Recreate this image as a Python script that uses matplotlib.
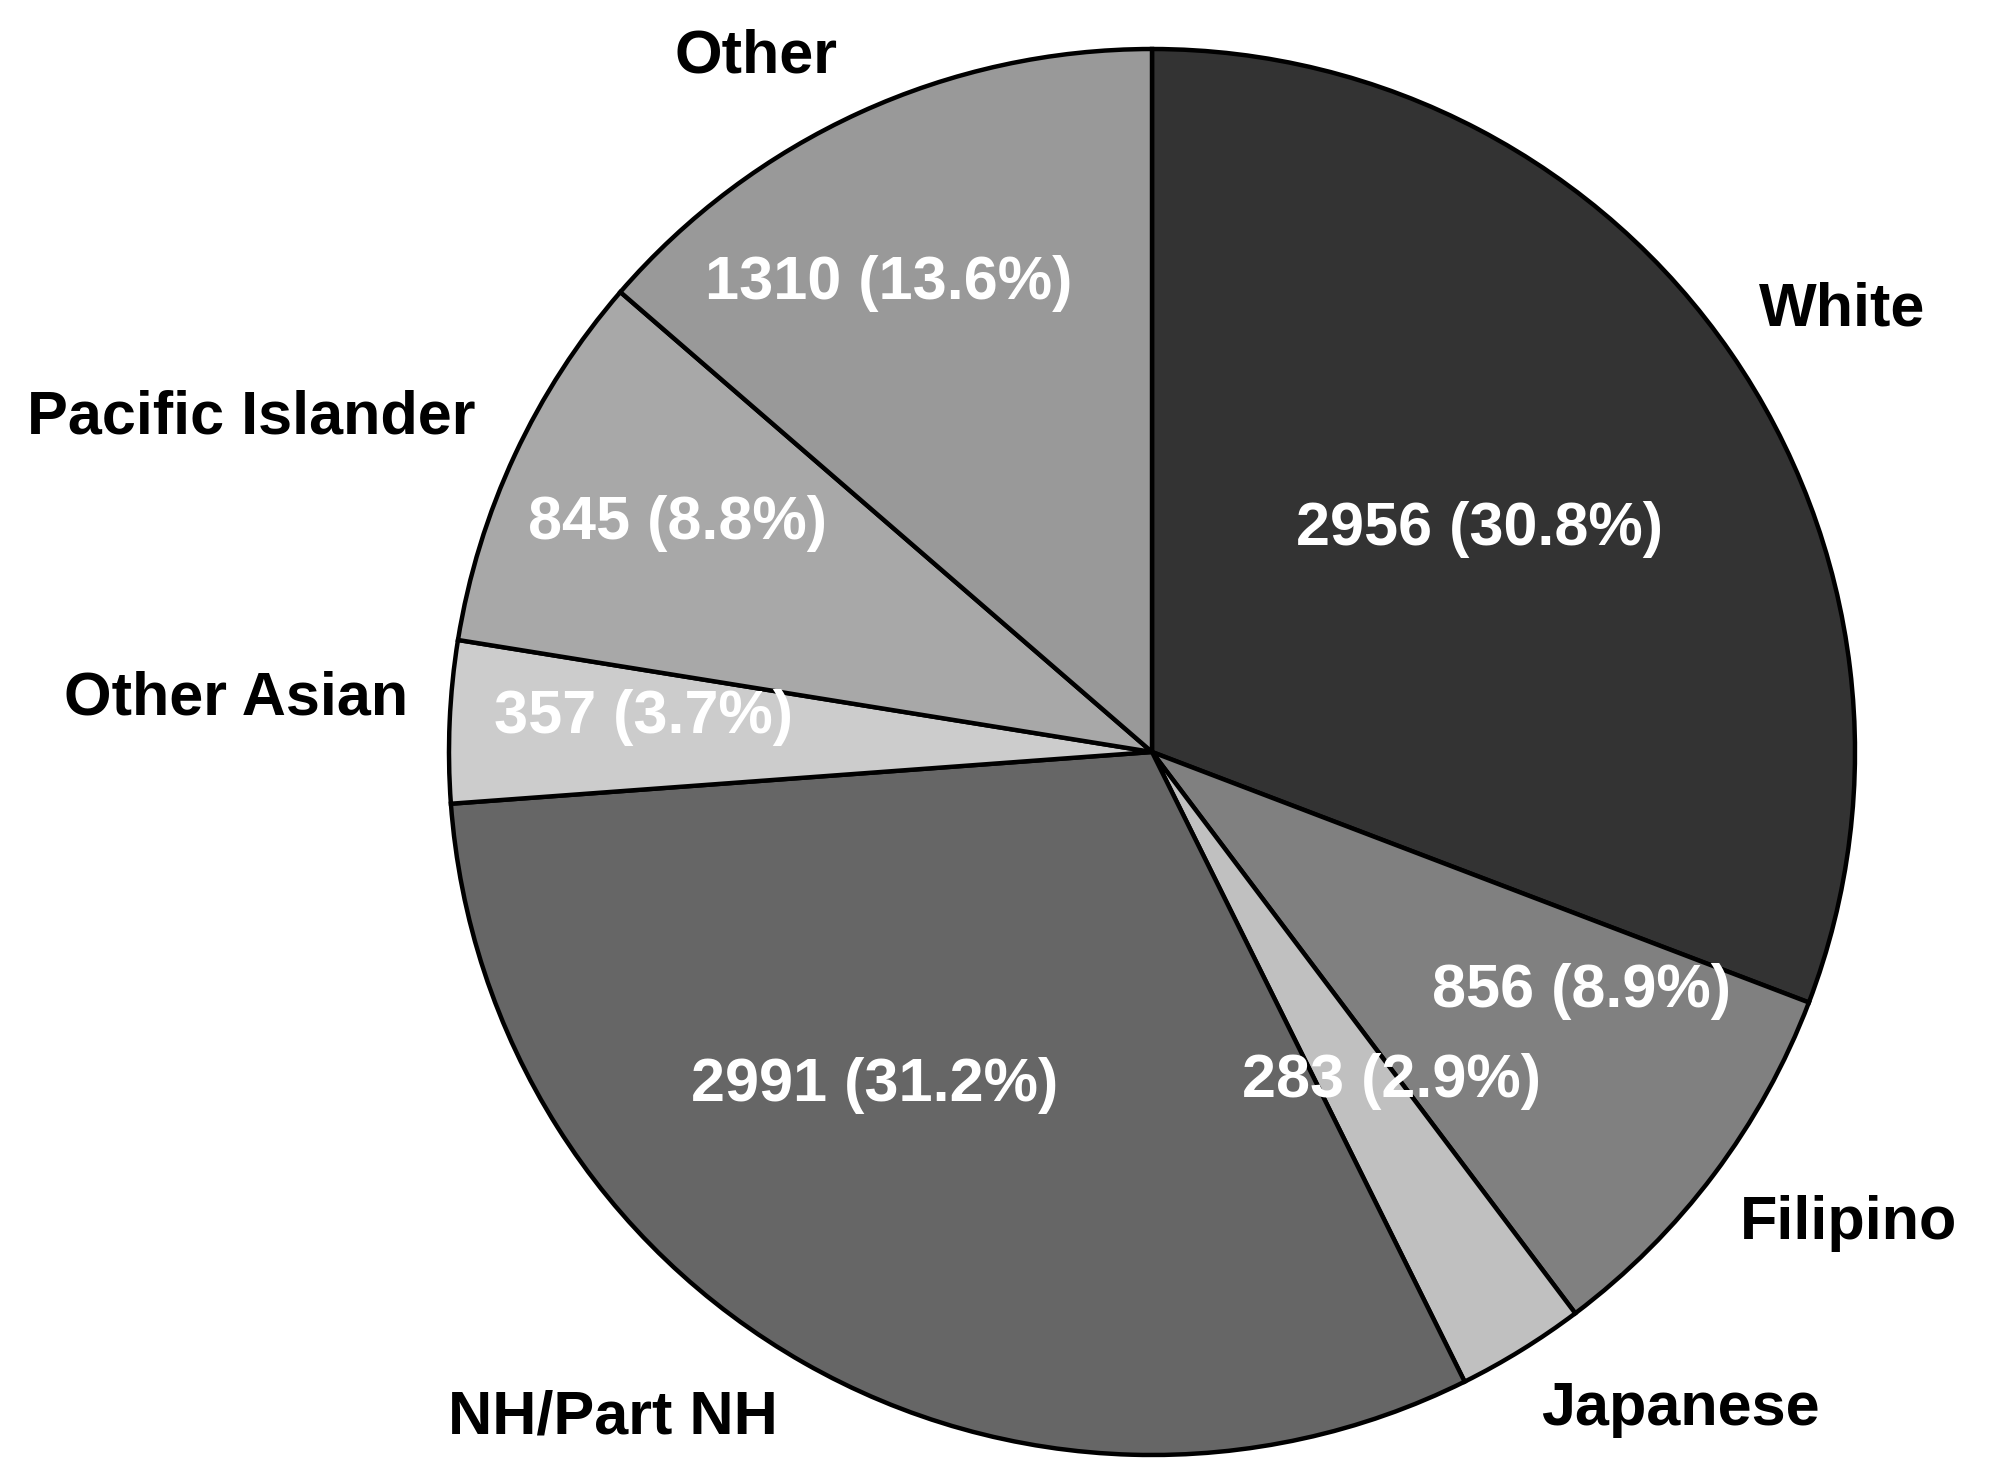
import matplotlib
matplotlib.use("Agg")
import matplotlib.pyplot as plt

# slices, clockwise from 12 o'clock
groups = ["White", "Filipino", "Japanese", "NH/Part NH", "Other Asian", "Pacific Islander", "Other"]
counts = [2956, 856, 283, 2991, 357, 845, 1310]
colors = ["#333333", "#808080", "#c0c0c0", "#666666", "#cccccc", "#a8a8a8", "#999999"]

# label placement in figure pixels (x, y from top)
name_pos = [(1842, 310), (1849, 1224), (1680, 1409), (613, 1418), (236, 699), (251, 418), (756, 57)]
value_pos = [(1479, 530), (1581, 991), (1391, 1081), (875, 1086), (644, 717), (677, 524), (889, 283)]

W, H = 1999, 1479
cx, cy, R = 1152, 752, 703

fig = plt.figure(figsize=(W / 100, H / 100), dpi=100)
ax = fig.add_axes([0, 0, 1, 1])

ax.pie(counts, colors=colors, startangle=90, counterclock=False, radius=1.0,
       wedgeprops=dict(edgecolor="black", linewidth=3.2))
ax.set_aspect("auto")
ax.set_xlim(-cx / R, (W - cx) / R)
ax.set_ylim(-(H - cy) / R, cy / R)
ax.axis("off")

font = dict(family=["Liberation Sans", "DejaVu Sans"], fontweight="bold", fontsize=44)
total = sum(counts)


def to_data(px, py):
    return (px - cx) / R, (cy - py) / R


for name, n, (nx, ny), (vx, vy) in zip(groups, counts, name_pos, value_pos):
    x, y = to_data(nx, ny)
    ax.text(x, y, name, ha="center", va="center", color="black", **font)
    x, y = to_data(vx, vy)
    ax.text(x, y, f"{n} ({100 * n / total:.1f}%)", ha="center", va="center",
            color="white", **font)

fig.savefig("out.png", dpi=100, facecolor="white")
